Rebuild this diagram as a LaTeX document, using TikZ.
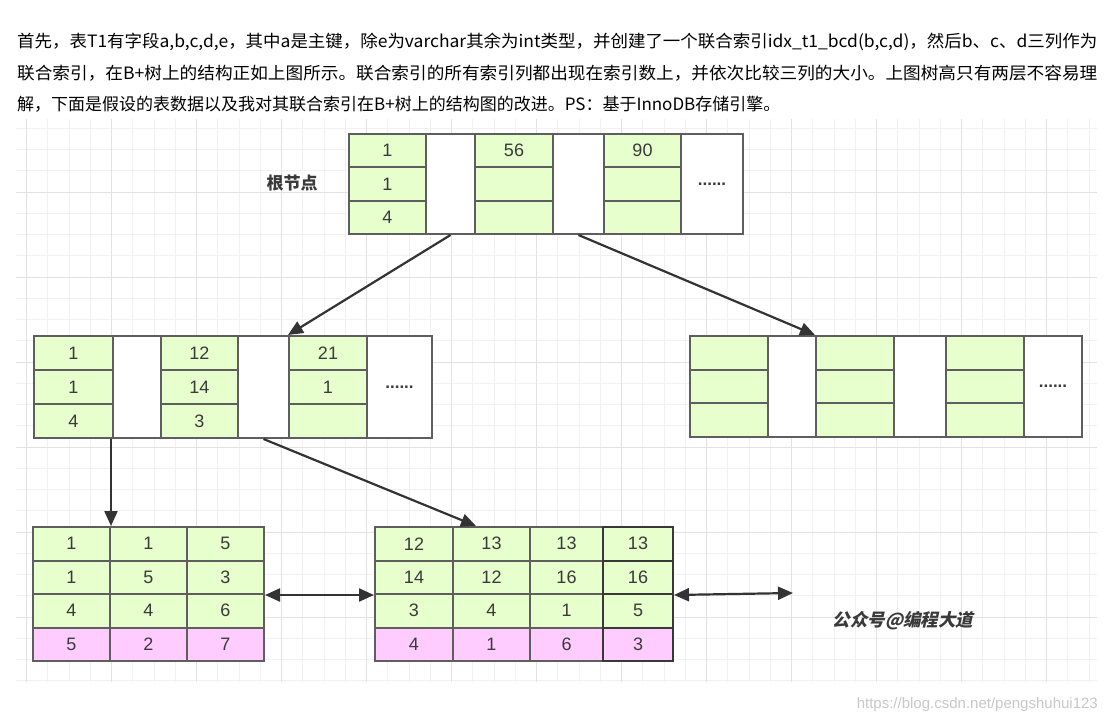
\documentclass[tikz,border=0pt]{standalone}
\usepackage{fontspec}
\usepackage{graphicx}
\setmainfont{Liberation Sans}
\newfontfamily\cjk{Noto Sans CJK SC}
\newfontfamily\cjkslant[FakeSlant=0.22]{Noto Sans CJK SC}
\usetikzlibrary{arrows.meta,calc}
\definecolor{cellgreen}{HTML}{E6FFCC}
\definecolor{cellpink}{HTML}{FFCCFF}
\definecolor{border}{HTML}{5E5E5E}
\definecolor{darkborder}{HTML}{383838}
\definecolor{ink}{HTML}{3A3A3A}
\definecolor{arrowink}{HTML}{333333}
\definecolor{gridminor}{HTML}{F1F1F1}
\definecolor{gridmajor}{HTML}{E2E2E2}
\definecolor{urlgray}{HTML}{C8C8C8}
\tikzset{
  cell/.style={draw=border, line width=2pt, anchor=north west, inner sep=0pt,
    font=\fontsize{18}{18}\selectfont, text=ink},
  gcell/.style={cell, fill=cellgreen},
  pcell/.style={cell, fill=cellpink},
  wcell/.style={cell, fill=white},
  dots/.style={font=\bfseries\fontsize{17}{17}\selectfont},
  arr/.style={draw=arrowink, line width=2.2pt, -{Triangle[length=15pt,width=13pt]}},
  darr/.style={draw=arrowink, line width=2.2pt, {Triangle[length=15pt,width=13pt]}-{Triangle[length=15pt,width=13pt]}},
  para/.style={anchor=west, inner sep=0pt, text=black, font=\cjk\fontsize{17}{17}\selectfont},
}
\begin{document}
\begin{tikzpicture}[x=1pt,y=-1pt]
\useasboundingbox[fill=white] (0,0) rectangle (1109,723);
% grid
\foreach \i in {0,...,50} \draw[gridminor, line width=1pt] ({26.7+21.25*\i},119) -- ({26.7+21.25*\i},682);
\foreach \j in {0,...,26} \draw[gridminor, line width=1pt] (16,{128.3+21.25*\j}) -- (1097,{128.3+21.25*\j});
\foreach \i in {0,4,...,48} \draw[gridmajor, line width=1pt] ({26.7+21.25*\i},119) -- ({26.7+21.25*\i},682);
\foreach \j in {3,7,...,23} \draw[gridmajor, line width=1pt] (16,{128.3+21.25*\j}) -- (1097,{128.3+21.25*\j});
% paragraph
\node[para] (p1) at (17,42) {\resizebox{1080pt}{\height}{首先，表T1有字段a,b,c,d,e，其中a是主键，除e为varchar其余为int类型，并创建了一个联合索引idx\_t1\_bcd(b,c,d)，然后b、c、d三列作为}};
\node[para] (p2) at (17,73) {\resizebox{1080pt}{\height}{联合索引，在B+树上的结构正如上图所示。联合索引的所有索引列都出现在索引数上，并依次比较三列的大小。上图树高只有两层不容易理}};
\node[para] (p3) at (17,104) {解，下面是假设的表数据以及我对其联合索引在B+树上的结构图的改进。PS：基于InnoDB存储引擎。};
% root node
\foreach \t [count=\r] in {1,1,4} \node[gcell, minimum width=77pt, minimum height=33.33pt] (Ra\r) at (348,{133+(\r-1)*33.33}) {\t};
\node[wcell, minimum width=49pt, minimum height=100pt] (RW1) at (425,133) {};
\foreach \t [count=\r] in {56,{},{}} \node[gcell, minimum width=78pt, minimum height=33.33pt] (Rb\r) at (474,{133+(\r-1)*33.33}) {\t};
\node[wcell, minimum width=51pt, minimum height=100pt] (RW2) at (552,133) {};
\foreach \t [count=\r] in {90,{},{}} \node[gcell, minimum width=77pt, minimum height=33.33pt] (Rc\r) at (603,{133+(\r-1)*33.33}) {\t};
\node[wcell, minimum width=62pt, minimum height=100pt, dots] (RW3) at (680,133) {......};
\node[font=\cjk\bfseries\fontsize{17}{17}\selectfont, text=ink] (rootlabel) at (292,183) {根节点};
% left internal node
\foreach \t [count=\r] in {1,1,4} \node[gcell, minimum width=79pt, minimum height=34pt] (La\r) at (33,{335+(\r-1)*34}) {\t};
\node[wcell, minimum width=48pt, minimum height=102pt] (LW1) at (112,335) {};
\foreach \t [count=\r] in {12,14,3} \node[gcell, minimum width=77pt, minimum height=34pt] (Lb\r) at (160,{335+(\r-1)*34}) {\t};
\node[wcell, minimum width=51pt, minimum height=102pt] (LW2) at (237,335) {};
\foreach \t [count=\r] in {21,1,{}} \node[gcell, minimum width=78pt, minimum height=34pt] (Lc\r) at (288,{335+(\r-1)*34}) {\t};
\node[wcell, minimum width=65pt, minimum height=102pt, dots] (LW3) at (366,335) {......};
% right internal node
\foreach \r in {1,2,3} \node[gcell, minimum width=78pt, minimum height=33.67pt] (Qa\r) at (689,{335+(\r-1)*33.67}) {};
\node[wcell, minimum width=48pt, minimum height=101pt] (QW1) at (767,335) {};
\foreach \r in {1,2,3} \node[gcell, minimum width=78pt, minimum height=33.67pt] (Qb\r) at (815,{335+(\r-1)*33.67}) {};
\node[wcell, minimum width=52pt, minimum height=101pt] (QW2) at (893,335) {};
\foreach \r in {1,2,3} \node[gcell, minimum width=78pt, minimum height=33.67pt] (Qc\r) at (945,{335+(\r-1)*33.67}) {};
\node[wcell, minimum width=58pt, minimum height=101pt, dots] (QW3) at (1023,335) {......};
% leaf 1
\foreach \t [count=\r] in {1,1,4} \node[gcell, minimum width=77pt, minimum height=33.5pt] (A1\r) at (32,{526+(\r-1)*33.5}) {\t};
\node[pcell, minimum width=77pt, minimum height=33.5pt] (A14) at (32,626.5) {5};
\foreach \t [count=\r] in {1,5,4} \node[gcell, minimum width=77pt, minimum height=33.5pt] (A2\r) at (109,{526+(\r-1)*33.5}) {\t};
\node[pcell, minimum width=77pt, minimum height=33.5pt] (A24) at (109,626.5) {2};
\foreach \t [count=\r] in {5,3,6} \node[gcell, minimum width=77pt, minimum height=33.5pt] (A3\r) at (186,{526+(\r-1)*33.5}) {\t};
\node[pcell, minimum width=77pt, minimum height=33.5pt] (A34) at (186,626.5) {7};
% leaf 2
\foreach \t [count=\r] in {12,14,3} \node[gcell, minimum width=78pt, minimum height=33.5pt] (B1\r) at (374,{526+(\r-1)*33.5}) {\t};
\node[pcell, minimum width=78pt, minimum height=33.5pt] (B14) at (374,626.5) {4};
\foreach \t [count=\r] in {13,12,4} \node[gcell, minimum width=77pt, minimum height=33.5pt] (B2\r) at (452,{526+(\r-1)*33.5}) {\t};
\node[pcell, minimum width=77pt, minimum height=33.5pt] (B24) at (452,626.5) {1};
\foreach \t [count=\r] in {13,16,1} \node[gcell, minimum width=73pt, minimum height=33.5pt] (B3\r) at (529,{526+(\r-1)*33.5}) {\t};
\node[pcell, minimum width=73pt, minimum height=33.5pt] (B34) at (529,626.5) {6};
\foreach \t [count=\r] in {13,16,5} \node[gcell, draw=darkborder, minimum width=70pt, minimum height=33.5pt] (B4\r) at (602,{526+(\r-1)*33.5}) {\t};
\node[pcell, draw=darkborder, minimum width=70pt, minimum height=33.5pt] (B44) at (602,626.5) {3};
% connectors
\draw[arr] (RW1.south) -- (Lc1.north west);
\draw[arr] (RW2.south) -- (Qb1.north west);
\draw[arr] (A11.north east |- La3.south) -- (A11.north east);
\coordinate (leaf2entry) at ($(B21.north west)+(24,0)$);
\draw[arr] (LW2.south) -- (leaf2entry);
\draw[darr] (A32.south east) -- (B12.south west);
\coordinate (nextleaf) at (793,593);
\draw[darr] (B42.south east) -- (nextleaf);
% watermarks
\node[font=\cjkslant\bfseries\fontsize{17.5}{17.5}\selectfont, text=ink] (wm) at (903,621) {公众号@编程大道};
\node[anchor=east, inner sep=0pt, font=\fontsize{15}{15}\selectfont, text=urlgray] (url) at (1098,705) {https://blog.csdn.net/pengshuhui123};
\end{tikzpicture}
\end{document}
